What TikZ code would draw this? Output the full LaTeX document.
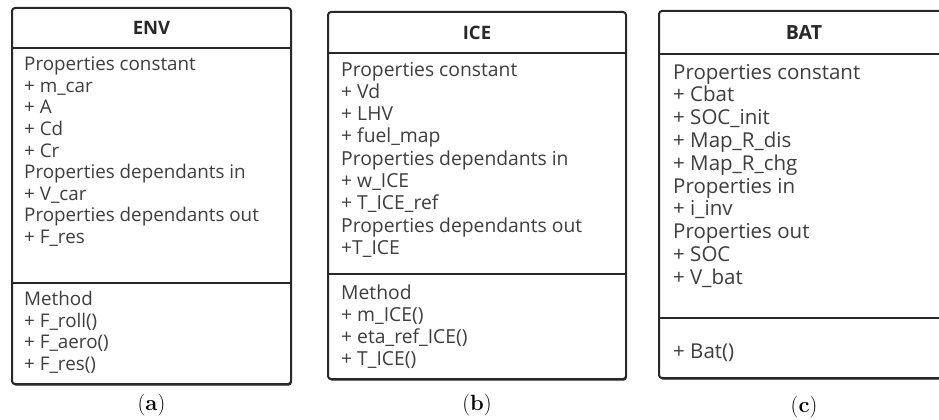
\documentclass[tikz,border=0pt]{standalone}
\usepackage{fontspec}
\setsansfont{Open Sans}
\usepackage{tikz}
\usetikzlibrary{positioning, calc, shadows}
\definecolor{umlgray}{RGB}{40, 40, 40}
\definecolor{umltext}{RGB}{62, 62, 62}

\begin{document}
\begin{tikzpicture}[x=1pt, y=-1pt,
  classbox/.style={draw=umlgray, line width=2pt, fill=white, rounded corners=3pt,
    anchor=north west, inner sep=0pt,
    drop shadow={shadow xshift=0.8pt, shadow yshift=-1.6pt, fill=umlgray, opacity=1}},
  sepline/.style={draw=umlgray, line width=1.7pt},
  classtitle/.style={font=\sffamily\bfseries\fontsize{#1}{#1}\selectfont, text=umlgray},
  % anchored on the baseline of the last line
  members/.style 2 args={anchor=base west, align=left, inner sep=0pt, text=umltext,
    font=\sffamily\fontsize{#1}{#2}\selectfont},
  caption/.style={font=\fontsize{22}{26}\selectfont, text=black}]

  \useasboundingbox (0,0) rectangle (939,420);

  % (a) environment class
  \node[classbox, minimum width=279pt, minimum height=376pt] (env) at (11,7) {};
  \path (0,48) coordinate (env-t) (0,283) coordinate (env-m);
  \draw[sepline] (env.west |- env-t) -- (env.east |- env-t);
  \draw[sepline] (env.west |- env-m) -- (env.east |- env-m);
  \node[classtitle=18.5] (env-name) at ($(env.north)+(0,21)$) {ENV};
  \node[members={18.8}{21.6}] (env-attr) at ($(env.north west)+(13,236.5)$) {
    Properties constant\\
    + m\_car\\
    + A\\
    + Cd\\
    + Cr\\
    Properties dependants in\\
    + V\_car\\
    Properties dependants out\\
    + F\_res};
  \node[members={18.8}{21.6}] (env-meth) at ($(env.north west)+(13,363.5)$) {
    Method\\
    + F\_roll()\\
    + F\_aero()\\
    + F\_res()};
  \node[caption] (cap-a) at ($(env.south)+(0,20)$) {(\textbf{a})};

  % (b) engine class
  \node[classbox, minimum width=298pt, minimum height=367pt] (ice) at (327,11) {};
  \path (0,53) coordinate (ice-t) (0,274) coordinate (ice-m);
  \draw[sepline] (ice.west |- ice-t) -- (ice.east |- ice-t);
  \draw[sepline] (ice.west |- ice-m) -- (ice.east |- ice-m);
  \node[classtitle=18.5] (ice-name) at ($(ice.north)+(0,22)$) {ICE};
  \node[members={19.3}{22.3}] (ice-attr) at ($(ice.north west)+(14,243.4)$) {
    Properties constant\\
    + Vd\\
    + LHV\\
    + fuel\_map\\
    Properties dependants in\\
    + w\_ICE\\
    + T\_ICE\_ref\\
    Properties dependants out\\
    +T\_ICE};
  \node[members={19.3}{22.3}] (ice-meth) at ($(ice.north west)+(14,354.9)$) {
    Method\\
    + m\_ICE()\\
    + eta\_ref\_ICE()\\
    + T\_ICE()};
  \node[caption] (cap-b) at ($(ice.south)+(0,25)$) {(\textbf{b})};

  % (c) battery class
  \node[classbox, minimum width=290pt, minimum height=367pt] (bat) at (658,10) {};
  \path (0,54) coordinate (bat-t) (0,318) coordinate (bat-m);
  \draw[sepline] (bat.west |- bat-t) -- (bat.east |- bat-t);
  \draw[sepline] (bat.west |- bat-m) -- (bat.east |- bat-m);
  \node[classtitle=19.5] (bat-name) at ($(bat.north)+(0,23)$) {BAT};
  \node[members={20.5}{22.8}] (bat-attr) at ($(bat.north west)+(15,274.2)$) {
    Properties constant\\
    + Cbat\\
    + SOC\_init\\
    + Map\_R\_dis\\
    + Map\_R\_chg\\
    Properties in\\
    + i\_inv\\
    Properties out\\
    + SOC\\
    + V\_bat};
  \node[members={20.5}{22.8}] (bat-meth) at ($(bat.north west)+(15,348)$) {
    + Bat()};
  \node[caption] (cap-c) at ($(bat.south)+(0,28)$) {(\textbf{c})};
\end{tikzpicture}
\end{document}
